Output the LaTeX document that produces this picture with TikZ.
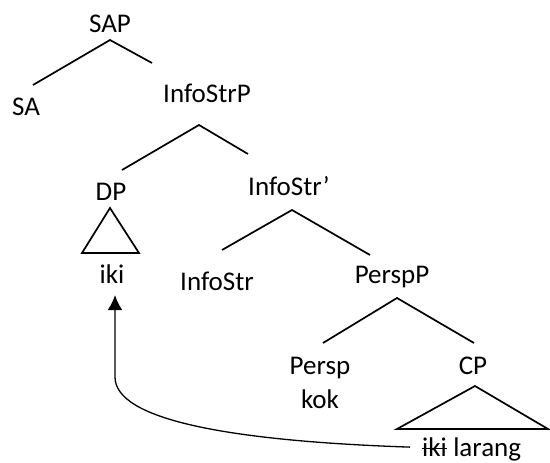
\documentclass[tikz,border=0pt]{standalone}
\usepackage{fontspec}
\setmainfont{Carlito}
\usetikzlibrary{arrows.meta}

\begin{document}
\begin{tikzpicture}[x=1pt,y=-1pt,font=\fontsize{27}{32}\selectfont,
cat/.style={inner sep=0pt, anchor=base},
branch/.style={line width=1.7pt},
movement/.style={line width=1.3pt, -{Latex[length=15pt,width=15pt]}}]
\useasboundingbox (0,0) rectangle (550,463);
% labels
\node[cat] (SAP) at (110,32) {SAP};
\node[cat] (SA) at (26,115) {SA};
\node[cat] (InfoStrP) at (207,102) {InfoStrP};
\node[cat] (DP) at (111,200) {DP};
\node[cat] (InfoStrbar) at (289,195) {InfoStr’};
\node[cat] (iki) at (112,283) {iki};
\node[cat] (InfoStr) at (217,290) {InfoStr};
\node[cat] (PerspP) at (392,283) {PerspP};
\node[cat] (Persp) at (320,374) {Persp};
\node[cat] (kok) at (320,408) {kok};
\node[cat] (CP) at (473,374) {CP};
\node[cat, anchor=base west] (trace) at (422,456.5) {iki};
\node[cat, anchor=base west] (larang) at ([xshift=6pt]trace.base east) {larang};
% branch points
\coordinate (SAP-top) at (110,40);
\coordinate (SAP-l) at (33,85);
\coordinate (SAP-r) at (152,63);
\coordinate (InfoStrP-top) at (199,125);
\coordinate (InfoStrP-l) at (122,170);
\coordinate (InfoStrP-r) at (248,154);
\coordinate (InfoStrbar-top) at (292,210);
\coordinate (InfoStrbar-l) at (222,250);
\coordinate (InfoStrbar-r) at (370,255);
\coordinate (PerspP-top) at (397,298);
\coordinate (PerspP-l) at (323,343);
\coordinate (PerspP-r) at (474,343);
\coordinate (DP-top) at (110,208);
\coordinate (CP-top) at (475,386);
\coordinate (bend) at (115,377);
% tree
\draw[branch] (SAP-l) -- (SAP-top) -- (SAP-r);
\draw[branch] (InfoStrP-l) -- (InfoStrP-top) -- (InfoStrP-r);
\draw[branch] (InfoStrbar-l) -- (InfoStrbar-top) -- (InfoStrbar-r);
\draw[branch] (PerspP-l) -- (PerspP-top) -- (PerspP-r);
% triangles
\draw[branch] (DP-top) -- (82,253) -- (139,253) -- cycle;
\draw[branch] (CP-top) -- (397,429) -- (548,429) -- cycle;
% strike-through on the trace
\draw[line width=1.2pt] ([yshift=-1pt]trace.west) -- ([yshift=-1pt]trace.east);
% movement
\draw[movement, shorten >=12pt] ([xshift=-12pt]trace.west) .. controls (230,441) and (115,420) .. (bend) -- (bend |- iki.south);
\end{tikzpicture}
\end{document}
